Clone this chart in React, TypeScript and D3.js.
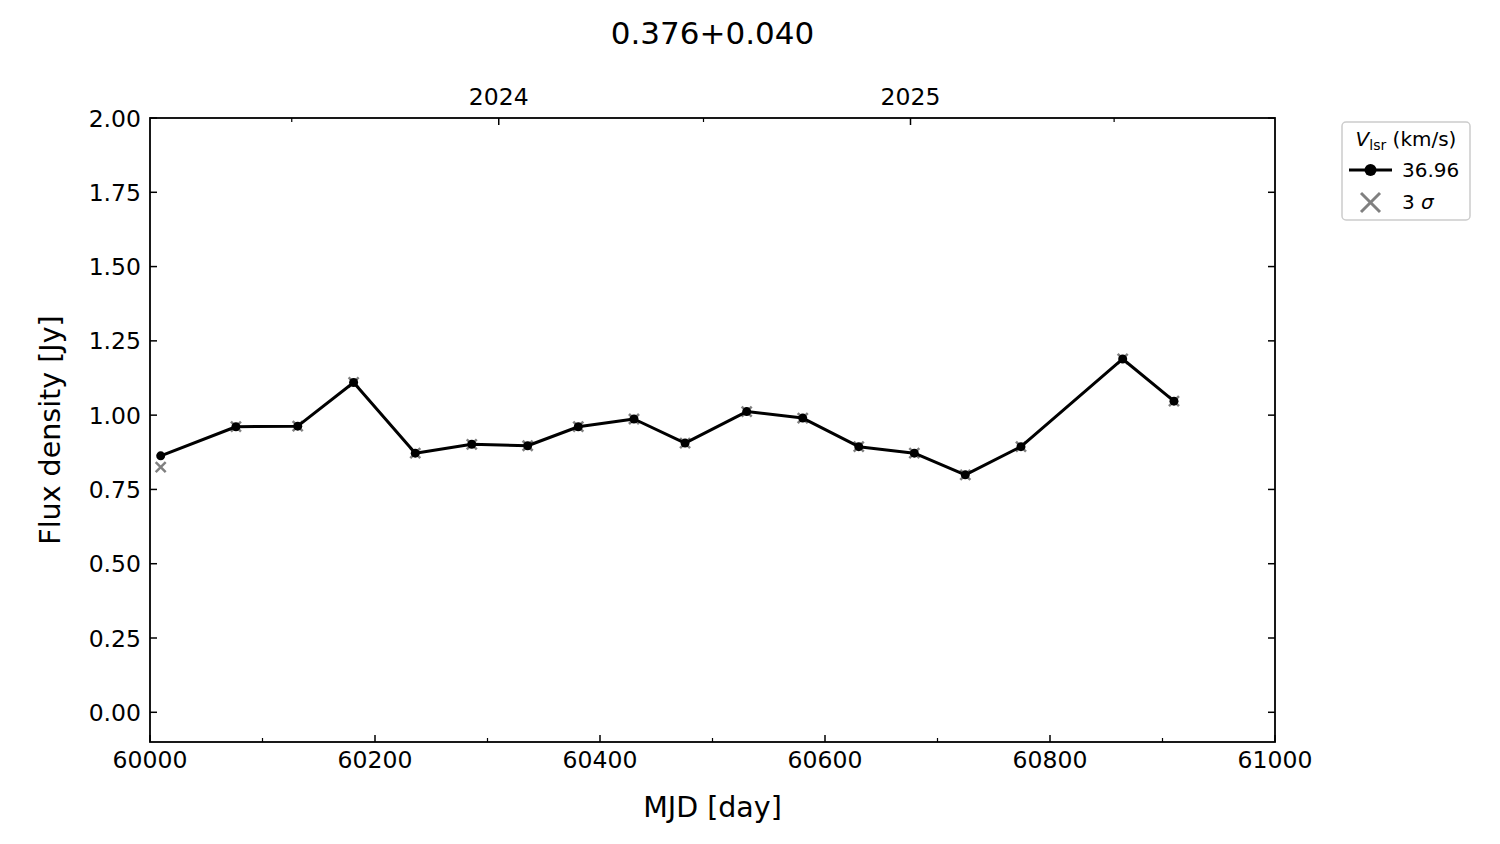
import React from "react";
import * as d3 from "d3";

const mjd = [60009.5, 60076.4, 60131.3, 60181, 60235.8, 60286, 60335.7, 60380.7, 60430.2, 60475.6, 60530.4, 60580.2, 60630, 60679.4, 60724.7, 60774.2, 60864.6, 60910.2];
const flux = [0.863, 0.961, 0.963, 1.11, 0.872, 0.902, 0.897, 0.961, 0.987, 0.906, 1.012, 0.99, 0.894, 0.872, 0.799, 0.894, 1.189, 1.047];
const sigma3 = [0.825, 0.961, 0.963, 1.11, 0.872, 0.902, 0.897, 0.961, 0.987, 0.906, 1.012, 0.99, 0.894, 0.872, 0.799, 0.894, 1.189, 1.047];
const xTicks = [60000, 60200, 60400, 60600, 60800, 61000];
const xMinor = [60100, 60300, 60500, 60700, 60900];
const yTicks = [0, 0.25, 0.5, 0.75, 1.0, 1.25, 1.5, 1.75, 2.0];
const yearTicks = [{ label: "2024", mjd: 60310 }, { label: "2025", mjd: 60676 }];
const yearMinor = [60126, 60492, 60857];
const title = "0.376+0.040";
const seriesLabel = "36.96";

const W = 1500, H = 844;
const L = 150, R = 1275, T = 118, B = 742;
const FONT = "DejaVu Sans, sans-serif";

export default function App() {
  const x = d3.scaleLinear().domain([60000, 61000]).range([L, R]);
  const y = d3.scaleLinear().domain([-0.1, 2.0]).range([B, T]);
  const line = d3.line<number>().x((_, i) => x(mjd[i])).y((d) => y(d));
  const xs = 5;
  return (
    <svg width={W} height={H} style={{ position: "absolute", left: 0, top: 0, background: "#fff" }} fontFamily={FONT}>
      <rect x={0} y={0} width={W} height={H} fill="#fff" />
      <text x={(L + R) / 2} y={44} textAnchor="middle" fontSize={31}>{title}</text>
      {/* data */}
      {sigma3.map((v, i) => (
        <g key={"s" + i} stroke="#808080" strokeWidth={2.5}>
          <line x1={x(mjd[i]) - xs} y1={y(v) - xs} x2={x(mjd[i]) + xs} y2={y(v) + xs} />
          <line x1={x(mjd[i]) - xs} y1={y(v) + xs} x2={x(mjd[i]) + xs} y2={y(v) - xs} />
        </g>
      ))}
      <path d={line(flux) || ""} fill="none" stroke="#000" strokeWidth={3} strokeLinejoin="round" />
      {flux.map((v, i) => (
        <circle key={"p" + i} cx={x(mjd[i])} cy={y(v)} r={4.5} fill="#000" />
      ))}
      {/* frame */}
      <rect x={L} y={T} width={R - L} height={B - T} fill="none" stroke="#000" strokeWidth={1.8} />
      {/* x ticks */}
      {xTicks.map((t) => (
        <g key={"x" + t}>
          <line x1={x(t)} x2={x(t)} y1={B} y2={B - 7} stroke="#000" strokeWidth={1.5} />
          <text x={x(t)} y={768} textAnchor="middle" fontSize={23.5}>{t}</text>
        </g>
      ))}
      {xMinor.map((t) => (
        <line key={"xm" + t} x1={x(t)} x2={x(t)} y1={B} y2={B - 4} stroke="#000" strokeWidth={1.2} />
      ))}
      {/* y ticks */}
      {yTicks.map((t) => (
        <g key={"y" + t}>
          <line x1={L} x2={L + 7} y1={y(t)} y2={y(t)} stroke="#000" strokeWidth={1.5} />
          <line x1={R} x2={R - 7} y1={y(t)} y2={y(t)} stroke="#000" strokeWidth={1.5} />
          <text x={141} y={y(t) + 8.5} textAnchor="end" fontSize={23.5}>{t.toFixed(2)}</text>
        </g>
      ))}
      {/* top year ticks */}
      {yearTicks.map((t) => (
        <g key={t.label}>
          <line x1={x(t.mjd)} x2={x(t.mjd)} y1={T} y2={T + 7} stroke="#000" strokeWidth={1.5} />
          <text x={x(t.mjd)} y={105} textAnchor="middle" fontSize={23.5}>{t.label}</text>
        </g>
      ))}
      {yearMinor.map((t) => (
        <line key={"ym" + t} x1={x(t)} x2={x(t)} y1={T} y2={T + 4} stroke="#000" strokeWidth={1.2} />
      ))}
      {/* axis labels */}
      <text x={(L + R) / 2} y={817} textAnchor="middle" fontSize={28.5}>MJD [day]</text>
      <text transform={`translate(60, ${(T + B) / 2}) rotate(-90)`} textAnchor="middle" fontSize={28.5}>Flux density [Jy]</text>
      {/* legend */}
      <rect x={1342} y={122} width={128} height={98} rx={4} fill="#fff" stroke="#cccccc" strokeWidth={1.5} />
      <text x={1406} y={146} textAnchor="middle" fontSize={20}>
        <tspan fontStyle="italic">V</tspan>
        <tspan fontSize={14} dy={4}>lsr</tspan>
        <tspan dy={-4}> (km/s)</tspan>
      </text>
      <line x1={1349} x2={1392} y1={170} y2={170} stroke="#000" strokeWidth={3} />
      <circle cx={1370.5} cy={170} r={6} fill="#000" />
      <text x={1402} y={177} fontSize={20}>{seriesLabel}</text>
      <g stroke="#808080" strokeWidth={3}>
        <line x1={1361} y1={193} x2={1380} y2={212} />
        <line x1={1361} y1={212} x2={1380} y2={193} />
      </g>
      <text x={1402} y={209} fontSize={20}>3 <tspan fontStyle="italic">σ</tspan></text>
    </svg>
  );
}
